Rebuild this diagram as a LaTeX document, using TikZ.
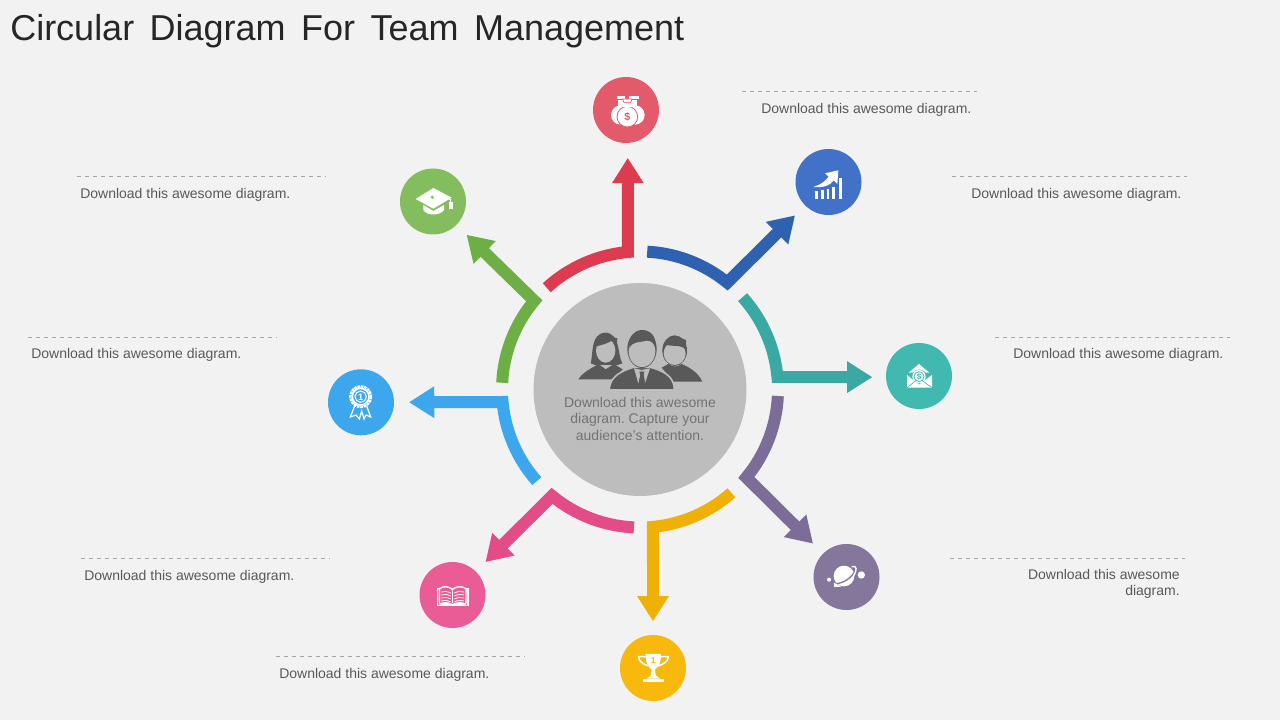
\documentclass[tikz,border=0pt]{standalone}
\usepackage{fontspec}
\setmainfont{Liberation Sans}
\usetikzlibrary{arrows.meta,positioning}

\definecolor{pagegray}{HTML}{F2F2F2}
\definecolor{hubgray}{HTML}{BDBDBD}
\definecolor{inkgray}{HTML}{595959}
\definecolor{armred}{HTML}{DD3B50}
\definecolor{dotred}{HTML}{E35A6A}
\definecolor{armblue}{HTML}{2E62B0}
\definecolor{dotblue}{HTML}{4272C8}
\definecolor{armteal}{HTML}{3BA9A3}
\definecolor{dotteal}{HTML}{41B8B0}
\definecolor{armpurple}{HTML}{7B6C98}
\definecolor{dotpurple}{HTML}{85769B}
\definecolor{armyellow}{HTML}{EFB008}
\definecolor{dotyellow}{HTML}{F8B90C}
\definecolor{armpink}{HTML}{E44C88}
\definecolor{dotpink}{HTML}{E95C96}
\definecolor{armsky}{HTML}{3DA7EE}
\definecolor{dotsky}{HTML}{3DA7EE}
\definecolor{armgreen}{HTML}{6EAF45}
\definecolor{dotgreen}{HTML}{83BD5E}

\begin{document}
\begin{tikzpicture}[
        x=0.75pt, y=0.75pt,
        hub/.style    = {circle, fill=hubgray, minimum size=159.75pt, inner sep=0pt},
        dot/.style    = {circle, minimum size=49.5pt, inner sep=0pt},
        arm/.style    = {line width=9pt, miter limit=20, -{Triangle[length=19pt,width=22.5pt]}},
        note/.style   = {text=inkgray, font=\fontsize{10.5}{12.4}\selectfont, inner sep=0pt},
        rule/.style   = {draw=black!35, line width=0.5pt, dashed},
        zoomed/.style 2 args = {shift={(#1,720-#2)}, x=0.25pt, y=-0.25pt},
        glyph/.style  = {font=\fontsize{#1}{#1}\selectfont\bfseries, inner sep=0pt}]

        \fill[pagegray] (0,0) rectangle (1280,720);
        \useasboundingbox (0,0) rectangle (1280,720);

        % title
        \node[anchor=west, inner sep=0pt, text=black!85, font=\fontsize{27}{30}\selectfont] (title) at (10,689) {\spaceskip=11.6pt\relax Circular Diagram For Team Management};

        % hub in the middle
        \node[hub] (c) at (640,330.5) {};
        \node[align=center, text=black!55, inner sep=0pt, font=\fontsize{10.5}{12.4}\selectfont\frenchspacing] (hubtext) at (640,301) {Download this awesome\\diagram. Capture your\\audience's attention.};

        % icon discs
        \foreach \n/\x/\y/\col in {1/626/610/dotred, 2/828.5/538/dotblue, 3/919/344/dotteal, 4/846.5/143/dotpurple,
                                   5/653/52/dotyellow, 6/452.5/125/dotpink, 7/361/317.7/dotsky, 8/433/518.5/dotgreen}
            \node[dot, fill=\col] (ic\n) at (\x,\y) {};

        % arcs round the hub, each running on into its arrow
        \foreach \n/\col/\sa/\ea/\an/\sh in {1/armred/132.5/95/273.5/11, 2/armblue/87/50.8/225/10.5, 3/armteal/42/5.2/182/10,
                                             4/armpurple/-2.7/-39.6/135/10.5, 5/armyellow/-48.5/-84.6/90/10,
                                             6/armpink/-92.5/-129.6/45/10, 7/armsky/221.6/185.2/0/11, 8/armgreen/177.2/140/-45/10.5}
            \draw[arm, draw=\col, shorten >=\sh pt] (c) ++(\sa:138) arc[start angle=\sa, end angle=\ea, radius=138] -- (ic\n.\an);

        % notes with the dashed rule over them
        \foreach \n/\x/\y/\tx/\len in {1/742/628.5/761/235, 2/952/543.5/971/235, 3/995/383/1013/235, 5/276/63.5/279/249, 6/81/161.5/84/249, 7/28/383/31/249, 8/77/543.5/80/249}
        {
            \draw[rule] (\x,\y) -- ++(\len,0);
            \node[note, anchor=base west] (t\n) at (\tx,\y-22) {Download this awesome diagram.};
        }
        \draw[rule] (950,161.5) -- ++(235,0);
        \node[note, anchor=north east, align=right] (t4) at (1180,151) {Download this awesome\\diagram.};

        % people in the hub
        \begin{scope}[zoomed={530}{280}]
            \fill[inkgray] (182,250) .. controls (190,225) and (180,160) .. (226,158) .. controls (272,160) and (262,225) .. (277,250) -- (262,255) -- (195,255) -- cycle;
            \fill[hubgray] (227,212) ellipse[x radius=29, y radius=36];
            \fill[inkgray] (196,200) .. controls (215,195) and (235,190) .. (248,180) .. controls (254,190) and (258,195) .. (259,205) -- (262,175) -- (225,165) -- (195,178) -- cycle;
            \fill[inkgray] (145,298) .. controls (160,275) and (185,265) .. (205,252) -- (227,268) -- (252,252) -- (278,268) -- (250,298) -- cycle;
            \fill[inkgray] (434,212) ellipse[x radius=37, y radius=46];
            \fill[hubgray] (434,220) ellipse[x radius=33, y radius=35];
            \fill[inkgray] (398,215) .. controls (395,175) and (430,160) .. (468,180) -- (468,212) .. controls (460,195) and (445,200) .. (405,195) -- cycle;
            \fill[inkgray] (395,263) -- (415,252) .. controls (430,262) and (440,262) .. (455,252) .. controls (485,265) and (505,280) .. (517,305) -- (430,305) -- cycle;
            \filldraw[fill=inkgray, draw=hubgray, line width=1.2pt] (238,330) .. controls (238,285) and (285,270) .. (310,262) -- (362,262) .. controls (395,272) and (433,285) .. (433,330) -- cycle;
            \fill[inkgray] (336,207) ellipse[x radius=44, y radius=57];
            \fill[hubgray] (336,214) ellipse[x radius=40, y radius=47];
            \fill[inkgray] (298,205) .. controls (295,165) and (320,150) .. (340,151) .. controls (370,152) and (380,180) .. (376,205) .. controls (372,190) and (365,182) .. (350,182) .. controls (330,188) and (308,182) .. (298,205) -- cycle;
            \fill[hubgray] (312,265) -- (335,270) -- (360,265) -- (345,310) -- (335,270) -- (325,310) -- cycle;
            \fill[inkgray] (328,275) -- (343,275) -- (341,285) -- (345,306) -- (335,312) -- (327,306) -- (331,285) -- cycle;
        \end{scope}

        % money bags
        \begin{scope}[zoomed={560}{60}, white]
            \fill (182,165) circle[radius=29];
            \fill (225,165) circle[radius=29];
            \filldraw[draw=dotred, line width=0.6pt] (202,170) circle[radius=31];
            \fill (170,108) rectangle (195,116);
            \fill (208,108) rectangle (236,116);
            \fill (174,120) rectangle (192,140);
            \fill (214,120) rectangle (232,140);
            \filldraw[draw=dotred, line width=0.5pt] (188,117) -- (216,117) -- (212,128) -- (192,128) -- cycle;
            \fill (190,130) rectangle (214,142);
            \node[glyph=8, text=dotred] (bagsign) at (202,172) {\$};
        \end{scope}

        % rising chart
        \begin{scope}[zoomed={560}{60}, white]
            \fill (765,394) rectangle (775,416);
            \fill (783,390) rectangle (791,416);
            \fill (800,386) rectangle (808,416);
            \fill (817,382) rectangle (826,416);
            \fill (836,354) rectangle (846,416);
            \fill (760,381) .. controls (780,375) and (795,365) .. (806,350) -- (795,340) -- (835,331) -- (832,372) -- (821,361) .. controls (810,378) and (785,384) .. (760,381) -- cycle;
        \end{scope}

        % open envelope
        \begin{scope}[zoomed={720}{330}, white]
            \fill (561,135) -- (597,164) -- (636,135) -- (636,173) -- (561,173) -- cycle;
            \fill (566,128) -- (597,102) -- (628,128) -- (618,128) .. controls (605,115) and (590,115) .. (578,128) -- cycle;
            \fill (597,140) circle[radius=20];
            \draw[dotteal, line width=0.6pt] (597,140) circle[radius=15];
            \draw[dotteal, line width=0.5pt] (561,173) -- (590,150);
            \draw[dotteal, line width=0.5pt] (636,173) -- (604,150);
            \node[glyph=6, text=dotteal] (mailsign) at (597,140) {\$};
        \end{scope}

        % planet with moons
        \begin{scope}[zoomed={720}{330}, white]
            \fill (372,738) circle[radius=31];
            \fill (424,735) circle[radius=11];
            \fill (327,749) circle[radius=6];
            \draw[dotpurple, line width=1pt] (343,762) .. controls (370,760) and (395,745) .. (408,718);
            \draw[white, line width=1pt] (395,710) .. controls (412,705) and (412,720) .. (400,738);
            \fill (342,771) -- (342,758) -- (365,770) -- cycle;
        \end{scope}

        % trophy
        \begin{scope}[zoomed={400}{480}, white]
            \fill (737,522) -- (783,522) .. controls (783,550) and (775,562) .. (765,568) -- (767,585) .. controls (772,592) and (778,594) .. (781,596) -- (739,596) .. controls (745,592) and (750,590) .. (753,585) -- (755,568) .. controls (745,562) and (737,550) .. (737,522) -- cycle;
            \fill (729,598) rectangle (792,606);
            \draw[white, line width=1.2pt] (738,530) -- (716,530) .. controls (716,545) and (730,552) .. (745,558);
            \draw[white, line width=1.2pt] (782,530) -- (805,530) .. controls (805,545) and (790,552) .. (775,558);
            \node[glyph=6.5, text=dotyellow] (cupnum) at (760,541) {1};
        \end{scope}

        % open book
        \begin{scope}[zoomed={400}{480}, white]
            \draw[white, line width=0.9pt] (120,326) -- (112,326) -- (112,376) -- (204,376) -- (204,326) -- (196,326);
            \draw[white, line width=1pt] (118,370) -- (118,326) .. controls (132,316) and (148,320) .. (157,328) .. controls (168,320) and (184,316) .. (198,326) -- (198,370);
            \draw[white, line width=1pt] (157,328) -- (157,368);
            \foreach \yy in {336,345,354,363}
            {
                \draw[white, line width=0.6pt] (124,\yy) .. controls (132,\yy-4) and (142,\yy-2) .. (152,\yy+3);
                \draw[white, line width=0.6pt] (192,\yy) .. controls (184,\yy-4) and (174,\yy-2) .. (163,\yy+3);
            }
            \fill (118,370) .. controls (132,364) and (148,366) .. (157,372) .. controls (168,366) and (184,364) .. (198,370) -- (198,376) -- (118,376) -- cycle;
        \end{scope}

        % rosette with ribbons
        \begin{scope}[zoomed={310}{150}, white]
            \draw[white, line width=1.8pt, dash pattern=on 2pt off 0.6pt] (152,740) circle[radius=31];
            \draw[white, line width=1.2pt] (152,740) circle[radius=25];
            \draw[white, line width=0.8pt] (152,740) circle[radius=17];
            \node[glyph=7, text=white] (badgenum) at (152,741) {1};
            \draw[white, line width=0.9pt] (134,768) -- (121,801) -- (138,795) -- (148,807) -- (155,783) -- (162,807) -- (168,795) -- (182,801) -- (170,768);
        \end{scope}

        % graduation cap
        \begin{scope}[zoomed={310}{150}, white]
            \fill (317,147) -- (370,114) -- (425,143) -- (370,176) -- cycle;
            \fill (340,165) -- (370,183) -- (402,165) -- (402,180) .. controls (390,198) and (350,198) .. (340,180) -- cycle;
            \draw[white, line width=0.8pt] (367,142) -- (422,148) -- (422,160);
            \fill (417,155) rectangle (428,178);
            \fill[dotgreen] (367,142) circle[radius=5];
        \end{scope}
\end{tikzpicture}
\end{document}
